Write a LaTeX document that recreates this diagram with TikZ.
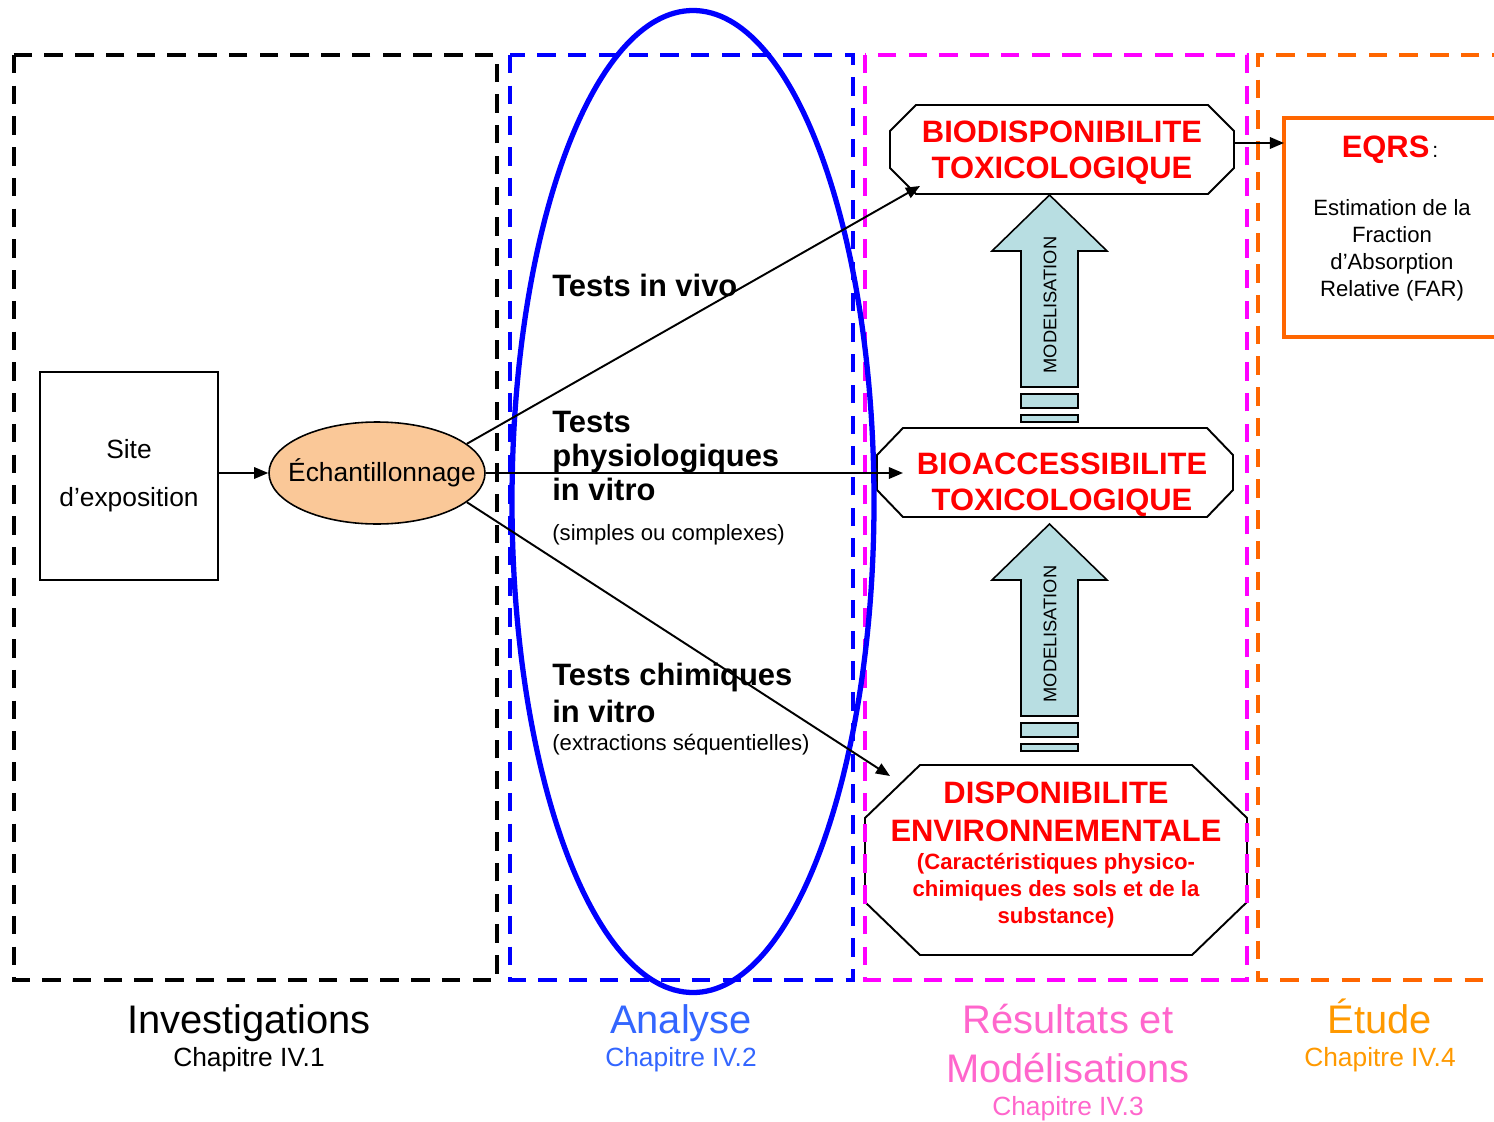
\documentclass[tikz,border=0pt]{standalone}
\usepackage{fontspec}
\setmainfont{Liberation Sans}
\usetikzlibrary{shapes.geometric, arrows.meta, calc}

\definecolor{zoneblue}{RGB}{0,0,255}
\definecolor{zonemagenta}{RGB}{255,0,255}
\definecolor{zoneorange}{RGB}{255,102,0}
\definecolor{peach}{RGB}{250,200,152}
\definecolor{modblue}{RGB}{184,222,226}
\definecolor{labelblue}{RGB}{51,102,255}
\definecolor{labelpink}{RGB}{255,102,204}
\definecolor{labelorange}{RGB}{255,153,0}

\newcommand{\pxu}{0.02cm}
% octagon drawn around an empty frame node: node, x cut, y cut
\newcommand{\octframe}[3]{%
  \draw[octline] ($(#1.north west)+(#2,0)$) -- ($(#1.north east)+(-#2,0)$)
    -- ($(#1.north east)+(0,#3)$) -- ($(#1.south east)+(0,-#3)$)
    -- ($(#1.south east)+(-#2,0)$) -- ($(#1.south west)+(#2,0)$)
    -- ($(#1.south west)+(0,-#3)$) -- ($(#1.north west)+(0,#3)$) -- cycle;}

\tikzset{
    zone/.style={line width=2.3pt, dash pattern=on 10.5pt off 7pt},
    frame/.style={rectangle, inner sep=0pt, outer sep=0pt},
    octline/.style={draw=black, line width=1.1pt, fill=white},
    flowarrow/.style={-{Triangle[length=8pt, width=6.5pt]}, line width=1.1pt},
    modarrow/.style={draw=black, line width=0.9pt, fill=modblue},
    testtitle/.style={anchor=base west, align=left, inner sep=0pt, font=\bfseries\fontsize{17.6}{19.3}\selectfont},
    testnote/.style={anchor=base west, inner sep=0pt, font=\fontsize{12.6}{15}\selectfont},
    octtitle/.style={anchor=base, align=center, inner sep=0pt, text=red, font=\bfseries\fontsize{17.6}{20.4}\selectfont},
    zonetitle/.style={anchor=base, inner sep=0pt, font=\fontsize{22.7}{27.8}\selectfont},
    zonechap/.style={anchor=base, inner sep=0pt, font=\fontsize{15}{18}\selectfont}
}

\begin{document}
\begin{tikzpicture}[x=\pxu, y=-\pxu]
\useasboundingbox (0,0) rectangle (1494,1122);

% sampling chain
\node[frame, draw, line width=0.9pt, minimum width=178*\pxu, minimum height=208*\pxu,
    align=center, font=\fontsize{15}{27.2}\selectfont] (site) at (129,476) {Site\\d’exposition};
\node[ellipse, draw, line width=0.9pt, fill=peach, minimum width=216*\pxu, minimum height=102*\pxu,
    inner sep=0pt] (ech) at (377,473) {};
\node[inner sep=0pt, font=\fontsize{15}{18}\selectfont] (echtext) at (382,473) {Échantillonnage};

% result frames
\node[frame, minimum width=344*\pxu, minimum height=89*\pxu] (bio) at (1062,149.5) {};
\node[frame, minimum width=356*\pxu, minimum height=89*\pxu] (bioacc) at (1055,472.5) {};
\node[frame, minimum width=382*\pxu, minimum height=190*\pxu] (disp) at (1056,860) {};
\node[frame, draw=zoneorange, line width=2.3pt, minimum width=226*\pxu, minimum height=219*\pxu] (eqrs) at (1397,227.5) {};

\octframe{bio}{26}{26}
\octframe{bioacc}{26}{27}
\octframe{disp}{55}{53}

% multi-line texts sit on their last baseline
\node[octtitle] (biotext) at (1062,178) {BIODISPONIBILITE\\TOXICOLOGIQUE};
\node[octtitle] (bioacctext) at (1062,510) {BIOACCESSIBILITE\\TOXICOLOGIQUE};
\node[octtitle, font=\bfseries\fontsize{17.6}{21.5}\selectfont] (disptext) at (1056,841) {DISPONIBILITE\\ENVIRONNEMENTALE};
\node[octtitle, font=\bfseries\fontsize{12.6}{15.1}\selectfont] (dispnote) at (1056,923)
    {(Caractéristiques physico-\\chimiques des sols et de la\\substance)};

\node[anchor=base, inner sep=0pt] (eqrstitle) at (1390,157)
    {\textcolor{red}{\bfseries\fontsize{17.6}{20}\selectfont EQRS}\,{\fontsize{12}{14}\selectfont :}};
\node[anchor=base, align=center, inner sep=0pt, font=\fontsize{12.6}{15.3}\selectfont] (eqrsbody) at (1392,296)
    {Estimation de la\\Fraction\\d’Absorption\\Relative (FAR)};

% tests
\node[testtitle] (vivo) at (552,296) {Tests in vivo};
\node[testtitle] (physio) at (552,500) {Tests\\physiologiques\\in vitro};
\node[testnote] (physionote) at (552,540) {(simples ou complexes)};
\node[testtitle, font=\bfseries\fontsize{17.6}{21}\selectfont] (chimie) at (552,722) {Tests chimiques\\in vitro};
\node[testnote] (chimienote) at (552,750) {(extractions séquentielles)};

% modelisation arrows
\foreach \t/\name in {195/modup, 524/moddown} {
    \draw[modarrow] (1049.5,\t) -- (1107,\t+56) -- (1078,\t+56) -- (1078,\t+192)
        -- (1021,\t+192) -- (1021,\t+56) -- (992,\t+56) -- cycle;
    \draw[modarrow] (1021,\t+199) rectangle (1078,\t+213);
    \draw[modarrow] (1021,\t+220) rectangle (1078,\t+227);
    \node[rotate=90, inner sep=0pt, font=\fontsize{10.4}{12}\selectfont] (\name) at (1050,\t+110) {MODELISATION};
}

% zone labels
\node[zonetitle] (invtitle) at (249,1033) {Investigations};
\node[zonechap] (invchap) at (249,1066) {Chapitre IV.1};
\node[zonetitle, text=labelblue] (anatitle) at (681,1033) {Analyse};
\node[zonechap, text=labelblue] (anachap) at (681,1066) {Chapitre IV.2};
\node[zonetitle, text=labelpink, align=center] (restitle) at (1068,1082) {Résultats et\\Modélisations};
\node[zonechap, text=labelpink] (reschap) at (1068,1115) {Chapitre IV.3};
\node[zonetitle, text=labelorange] (etutitle) at (1380,1033) {Étude};
\node[zonechap, text=labelorange] (etuchap) at (1380,1066) {Chapitre IV.4};

% zones
\draw[zone] (14,55) rectangle (497,980);
\draw[zone, draw=zoneblue] (510,55) rectangle (853,980);
\draw[zone, draw=zonemagenta] (865,55) rectangle (1247,980);
\draw[zone, draw=zoneorange] (1510,55) -- (1258,55) -- (1258,980) -- (1510,980);

\draw[zoneblue, line width=3pt] (693,501.5) ellipse [x radius=181, y radius=491];

% connectors
\draw[flowarrow] (site.east |- ech.west) -- (ech.west);
\draw[flowarrow] (ech.18) -- ($(bio.south west)+(30,-8)$);
\draw[flowarrow] (ech.east) -- ($(bioacc.west)+(26,0.5)$);
\draw[flowarrow] (ech.-18) -- ($(disp.north west)+(25,11)$);
\coordinate (biojoin) at ($(bio.east)+(0,-6.5)$);
\draw[flowarrow] (biojoin) -- (biojoin -| eqrs.west);

\end{tikzpicture}
\end{document}
